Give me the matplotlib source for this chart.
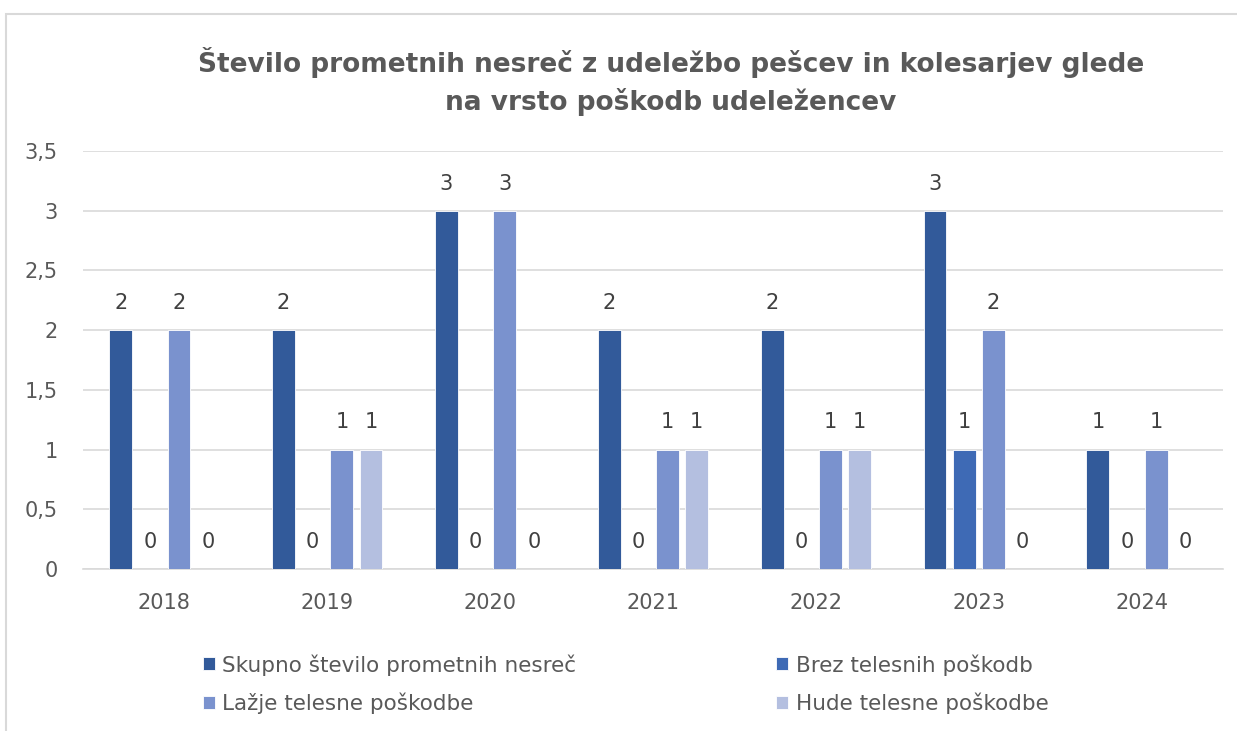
import matplotlib.pyplot as plt
import numpy as np
from matplotlib.patches import Rectangle

years = ['2018', '2019', '2020', '2021', '2022', '2023', '2024']
skupno = [2, 2, 3, 2, 2, 3, 1]
brez = [0, 0, 0, 0, 0, 1, 0]
lazje = [2, 1, 3, 1, 1, 2, 1]
hude = [0, 1, 0, 1, 1, 0, 0]

series_names = ['Skupno število prometnih nesreč', 'Brez telesnih poškodb',
                'Lažje telesne poškodbe', 'Hude telesne poškodbe']
colors = ['#325A9A', '#3E6AB5', '#7A92CE', '#B4BFE0']

plt.rcParams['font.family'] = ['DejaVu Sans']

fig = plt.figure(figsize=(12.37, 7.31), dpi=100)
fig.patches.append(Rectangle((6 / 1237, -0.1), 1.2, 1 - 14 / 731 + 0.1,
                             transform=fig.transFigure, fill=False,
                             edgecolor='#D9D9D9', linewidth=1.5))

ax = fig.add_axes([83 / 1237, 162 / 731, 1140 / 1237, 418 / 731])

x = np.arange(len(years))
step = 0.179
width = 0.141
bars = []
for i, (vals, c) in enumerate(zip([skupno, brez, lazje, hude], colors)):
    b = ax.bar(x + (i - 1.5) * step, vals, width, color=c, edgecolor='white',
               linewidth=0.6, label=series_names[i], zorder=3)
    bars.append(b)
    for rect, v in zip(b, vals):
        ax.annotate(str(v), (rect.get_x() + rect.get_width() / 2, v),
                    xytext=(0, 19.5), textcoords='offset points',
                    ha='center', va='center', fontsize=15, color='#404040')

ax.set_xlim(-0.5, len(years) - 0.5)
ax.set_ylim(0, 3.5)
ax.set_yticks(np.arange(0, 3.51, 0.5))
ax.set_yticklabels(['0', '0,5', '1', '1,5', '2', '2,5', '3', '3,5'])
ax.set_xticks(x)
ax.set_xticklabels(years)
ax.tick_params(axis='both', length=0, labelsize=15, labelcolor='#595959')
ax.tick_params(axis='x', pad=17)
ax.tick_params(axis='y', pad=18)
ax.grid(axis='y', color='#D9D9D9', linewidth=1.2, zorder=0)
for s in ['top', 'right', 'left']:
    ax.spines[s].set_visible(False)
ax.spines['bottom'].set_color('#D9D9D9')
ax.spines['bottom'].set_linewidth(1.2)

fig.text(671 / 1237, 1 - 81.5 / 731,
         'Število prometnih nesreč z udeležbo pešcev in kolesarjev glede\nna vrsto poškodb udeležencev',
         ha='center', va='center', fontsize=19, fontweight='bold', color='#595959',
         linespacing=1.45)

order = [0, 2, 1, 3]
leg = fig.legend([bars[i] for i in order], [series_names[i] for i in order],
                 loc='upper left', bbox_to_anchor=(203 / 1237, 1 - 654 / 731),
                 ncol=2, frameon=False, fontsize=15.5, labelcolor='#595959',
                 handlelength=0.56, handleheight=0.56, handletextpad=0.33,
                 columnspacing=9.3, labelspacing=0.78, borderpad=0, borderaxespad=0)

fig.savefig('out.png', dpi=100)
